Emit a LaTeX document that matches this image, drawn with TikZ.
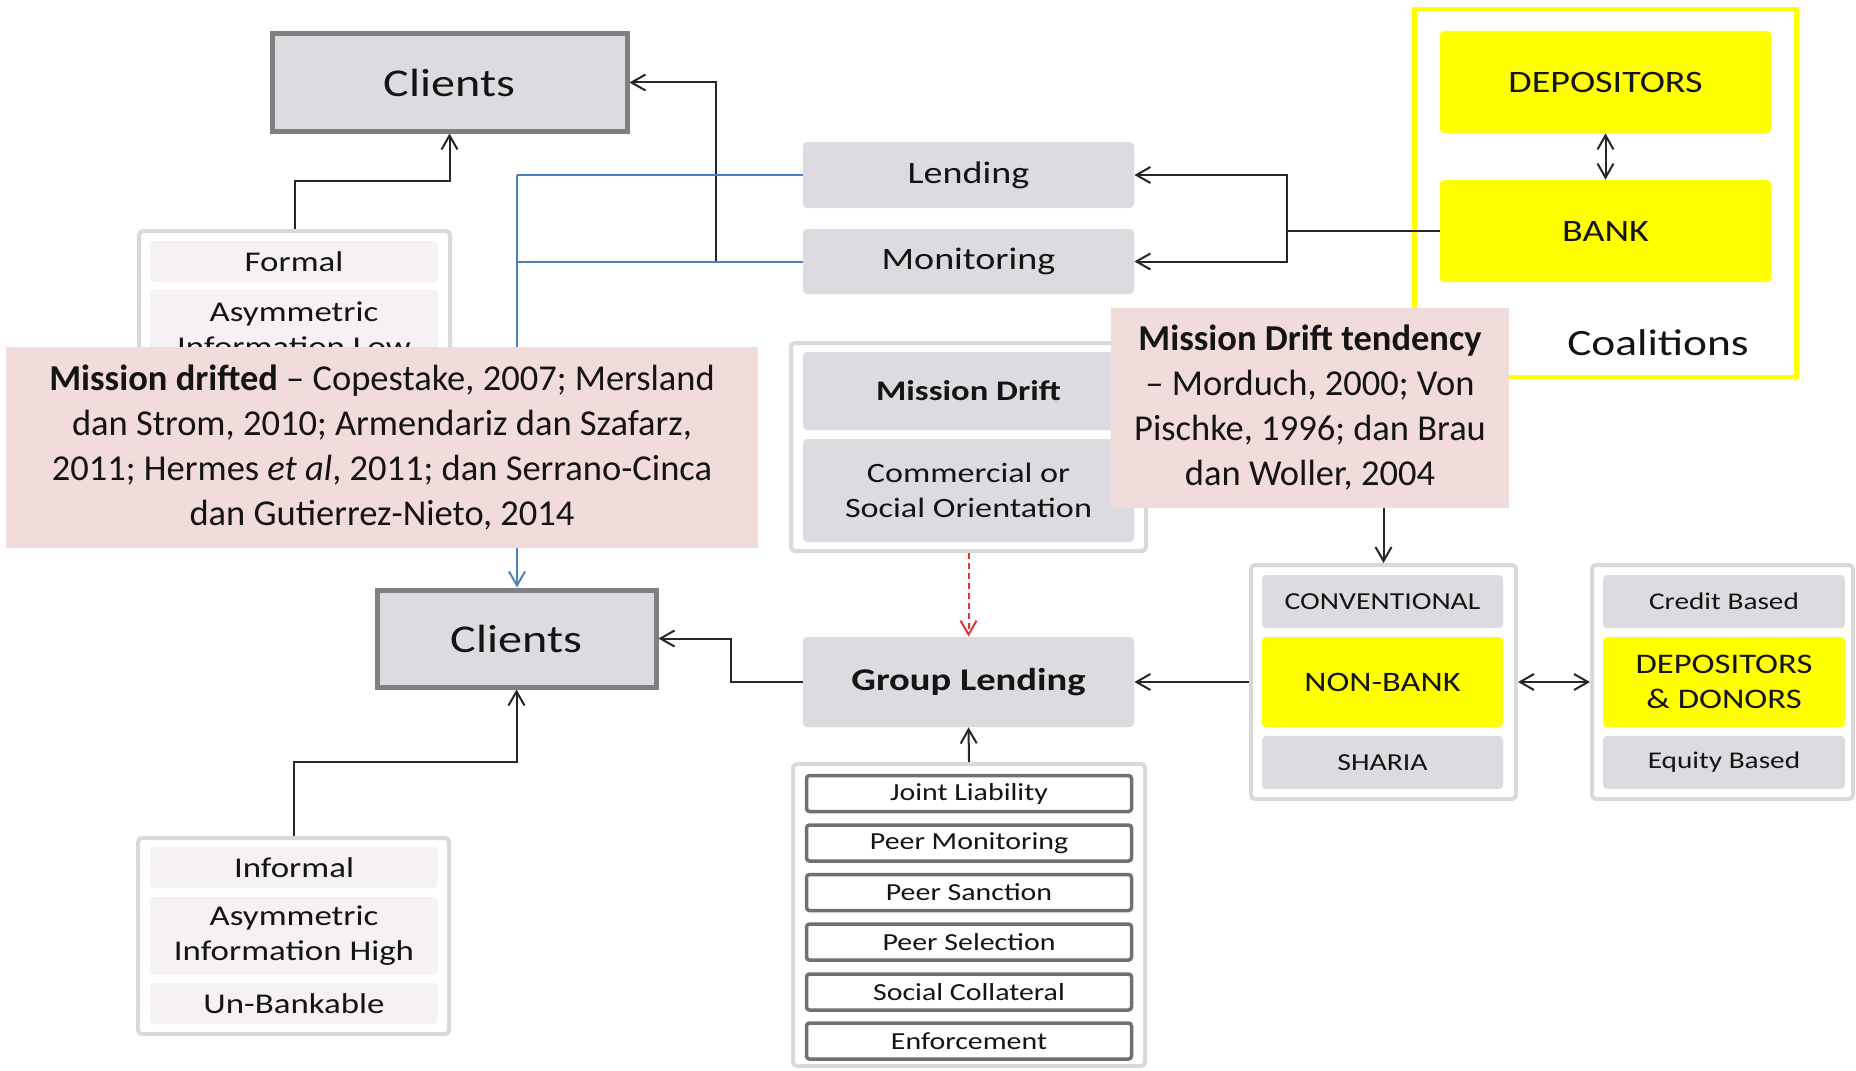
\documentclass[tikz,border=0pt]{standalone}
\usepackage{fontspec}
\setmainfont{Carlito}[FakeStretch=1.22]
\newfontfamily\plainfont{Carlito}[Ligatures=TeX]
\usetikzlibrary{arrows.meta}
\pgfdeclarelayer{front}
\pgfsetlayers{main,front}

\definecolor{cellgrey}{HTML}{DDDBDF}
\definecolor{cellpink}{HTML}{F6F1F4}
\definecolor{notepink}{HTML}{F2DCDB}
\definecolor{grpline}{HTML}{D9D9D9}
\definecolor{clientline}{HTML}{808080}
\definecolor{jlline}{HTML}{707070}
\definecolor{connline}{HTML}{262626}
\definecolor{linkblue}{HTML}{4F81BD}
\definecolor{driftred}{HTML}{E63232}
\definecolor{brightyellow}{HTML}{FFFF00}

\newcommand\setfs[2]{\fontsize{#1}{#2}\selectfont}

\tikzset{
  every node/.style={inner sep=0pt, text=black!92},
  sz/.style 2 args={minimum width={#1*0.5pt}, minimum height={#2*0.5pt}},
  grp/.style={draw=grpline, line width=2pt, fill=white, rounded corners=2pt},
  cell/.style={fill=cellgrey, rounded corners=2pt, align=center},
  lcell/.style={fill=cellpink, rounded corners=2pt, align=center, font=\setfs{14.3}{17.5}},
  ycell/.style={fill=brightyellow, rounded corners=2pt, align=center},
  jlcell/.style={draw=jlline, line width=1.75pt, fill=white, rounded corners=1.5pt,
                 sz={325}{36}, font=\setfs{12.25}{15}},
  client/.style={draw=clientline, line width=2.5pt, fill=cellgrey, font=\setfs{19.7}{24}},
  note/.style={fill=notepink, align=center, font=\plainfont\setfs{18.25}{22.5}},
  tip/.style={-{Straight Barb[length=7pt,width=8pt]}},
  conn/.style={draw=connline, line width=1pt},
  arr/.style={conn, tip},
  arrboth/.style={conn, {Straight Barb[length=7pt,width=8pt]}-{Straight Barb[length=7pt,width=8pt]}},
  blueline/.style={draw=linkblue, line width=1pt},
}

\begin{document}
\begin{tikzpicture}[x=0.5pt, y=-0.5pt]
\useasboundingbox (0,0) rectangle (1856,1070);

% ---- upper clients and formal segment
\node[client, sz={355}{97}] (clientsA) at (449.5,82.5) {Clients};
\node[grp, sz={311}{207}] (formalgrp) at (294.5,334.5) {};
\node[lcell, sz={288}{41}] (formal) at (294,261.5) {Formal};
\node[lcell, sz={288}{78}] (asymlo) at (294,329) {Asymmetric\\Information Low};

% ---- lending and monitoring
\node[cell, sz={331}{66}, font=\setfs{15.6}{19}] (lending) at (968.5,175) {Lending};
\node[cell, sz={331}{65}, font=\setfs{15.6}{19}] (monitoring) at (968.5,261.5) {Monitoring};

% ---- coalitions
\node[draw=brightyellow, line width=2.25pt, sz={382}{368}] (coal) at (1605.5,193) {};
\node[ycell, sz={331}{102}, font=\setfs{15.6}{19}] (dep) at (1605.5,82) {DEPOSITORS};
\node[ycell, sz={331}{102}, font=\setfs{15.6}{19}] (bank) at (1605.5,231) {BANK};
\node[font=\setfs{18.6}{22}] (coaltxt) at (1658,343) {Coalitions};

% ---- mission drift
\node[grp, sz={355}{208}] (mdgrp) at (968.5,447) {};
\node[cell, sz={331}{78}, font=\bfseries\setfs{14.2}{17}] (md) at (968.5,391) {Mission Drift};
\node[cell, sz={331}{103}, font=\setfs{14}{17.5}] (comm) at (968.5,490.5) {Commercial or\\Social Orientation};

% ---- lower clients and group lending
\node[client, sz={279}{97}] (clientsB) at (516.5,638.5) {Clients};
\node[cell, sz={331}{90}, font=\bfseries\setfs{15.8}{19}] (gl) at (968.5,682) {Group Lending};

% ---- institution types
\node[grp, sz={265}{234}] (nbgrp) at (1383.5,682) {};
\node[cell, sz={241}{53}, font=\setfs{12.2}{15}] (conv) at (1382.5,601.5) {CONVENTIONAL};
\node[ycell, sz={241}{90}, font=\setfs{14.1}{17}] (nonbank) at (1382.5,682) {NON-BANK};
\node[cell, sz={241}{53}, font=\setfs{12.2}{15}] (sharia) at (1382.5,762.5) {SHARIA};

% ---- funding sources
\node[grp, sz={261}{234}] (rgrp) at (1722.5,682) {};
\node[cell, sz={242}{53}, font=\setfs{12}{15}] (credit) at (1724,601.5) {Credit Based};
\node[ycell, sz={242}{90}, font=\setfs{14.2}{17.5}] (depdon) at (1724,682) {DEPOSITORS\\\& DONORS};
\node[cell, sz={242}{53}, font=\setfs{12}{15}] (equity) at (1724,762.5) {Equity Based};

% ---- informal segment
\node[grp, sz={311}{196}] (infgrp) at (293.5,936) {};
\node[lcell, sz={288}{41}] (informal) at (294,867.5) {Informal};
\node[lcell, sz={288}{78}] (asymhi) at (294,936) {Asymmetric\\Information High};
\node[lcell, sz={288}{41}] (unbank) at (294,1003.5) {Un-Bankable};

% ---- group lending mechanisms
\node[grp, sz={352}{302}] (jlgrp) at (969,915) {};
\node[jlcell] (jl1) at (969,793.5) {Joint Liability};
\node[jlcell] (jl2) at (969,843) {Peer Monitoring};
\node[jlcell] (jl3) at (969,892.5) {Peer Sanction};
\node[jlcell] (jl4) at (969,942) {Peer Selection};
\node[jlcell] (jl5) at (969,992) {Social Collateral};
\node[jlcell] (jl6) at (969,1041) {Enforcement};

% ---- literature notes (drawn above everything else)
\begin{pgfonlayer}{front}
\node[note, sz={752}{201}] (noteA) at (382,447.5)
  {\textbf{Mission drifted} – Copestake, 2007; Mersland\\
   dan Strom, 2010; Armendariz dan Szafarz,\\
   2011; Hermes \textit{et al}, 2011; dan Serrano-Cinca\\
   dan Gutierrez-Nieto, 2014};
\node[note, sz={398}{200}] (noteB) at (1310,408)
  {\textbf{Mission Drift tendency}\\
   – Morduch, 2000; Von\\
   Pischke, 1996; dan Brau\\
   dan Woller, 2004};
\end{pgfonlayer}

% ---- connectors
\coordinate (fa) at (294.5,181);
\draw[arr] (formalgrp.north) -- (fa) -| (clientsA.south);

\coordinate (ia) at (293.5,762);
\draw[arr] (infgrp.north) -- (ia) -| (clientsB.south);

\coordinate (ga) at (731,682);
\draw[arr] (gl.west) -- (ga) |- (clientsB.east);

\coordinate (mj) at (716,261.5);
\draw[arr] (mj) |- (clientsA.east);

\coordinate (bj) at (517,175);
\draw[blueline] (lending.west) -- (bj);
\draw[blueline] (monitoring.west) -- (bj |- monitoring.west);
\draw[blueline, tip] (bj) -- (bj |- clientsB.north);

\coordinate (bk) at (1287,231);
\draw[conn] (bank.west) -- (bk);
\draw[arr] (bk) |- (lending.east);
\draw[arr] (bk) |- (monitoring.east);
\draw[arrboth] (dep.south) -- (bank.north);

\draw[arr] (noteB.south -| nbgrp.north) -- (nbgrp.north);
\draw[draw=driftred, line width=1pt, dash pattern=on 3pt off 2pt, tip] (mdgrp.south) -- (gl.north);
\draw[arr] (jlgrp.north) -- (gl.south);
\draw[arr] (nbgrp.west) -- (gl.east);
\draw[arrboth] (nbgrp.east) -- (rgrp.west);
\end{tikzpicture}
\end{document}
